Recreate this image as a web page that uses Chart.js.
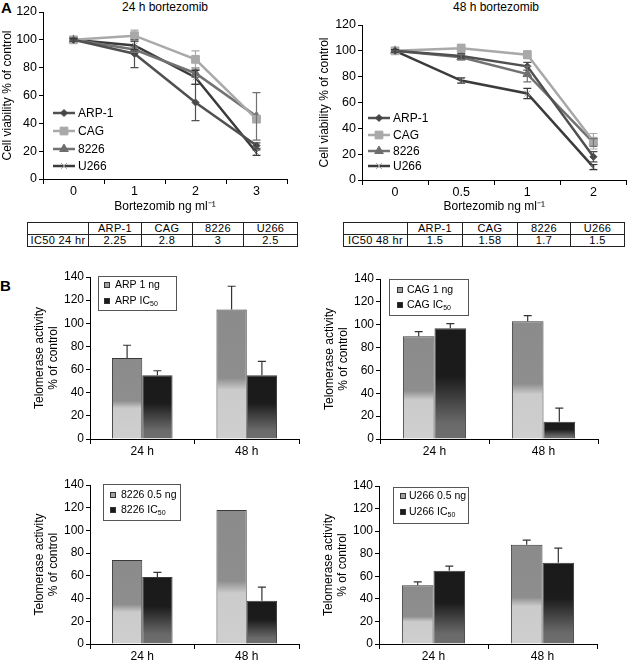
<!DOCTYPE html>
<html><head><meta charset="utf-8">
<script src="https://cdn.jsdelivr.net/npm/chart.js@4.4.0/dist/chart.umd.min.js"></script>
<style>
body{margin:0;background:#fff;font-family:"Liberation Sans",Arial,Helvetica,sans-serif;color:#000;}
#wrap{position:relative;width:633px;height:661px;overflow:hidden;background:#fff;}
canvas{position:absolute;}
.t{position:absolute;white-space:nowrap;font-size:12px;line-height:14px;}
.pl{position:absolute;font-weight:bold;font-size:15px;line-height:15px;}
table.ic{position:absolute;border-collapse:collapse;table-layout:fixed;border:1.5px solid #222;}
table.ic td{border:1px solid #222;height:11px;line-height:11px;padding:0;font-size:11px;letter-spacing:0.35px;text-align:center;overflow:hidden;white-space:nowrap;}
</style></head>
<body><div id="wrap">
<div class="pl" style="left:1px;top:0px;">A</div>
<div class="pl" style="left:0px;top:278px;">B</div>
<div class="t" style="left:165px;top:0px;transform:translateX(-50%);">24 h bortezomib</div>
<div class="t" style="left:496px;top:0px;transform:translateX(-50%);">48 h bortezomib</div>
<canvas id="a1" width="300" height="215" style="left:0px;top:0px;"></canvas>
<canvas id="a2" width="316" height="215" style="left:317px;top:0px;"></canvas>
<table class="ic" id="tab24" style="left:27px;top:222px;width:270px;"></table>
<table class="ic" id="tab48" style="left:343px;top:222px;width:281px;"></table>
<canvas id="b1" width="310" height="199" style="left:0px;top:262px;"></canvas>
<canvas id="b2" width="323" height="199" style="left:310px;top:262px;"></canvas>
<canvas id="b3" width="310" height="191" style="left:0px;top:470px;"></canvas>
<canvas id="b4" width="323" height="191" style="left:310px;top:470px;"></canvas>
</div>
<script>
// ---------- DATA ----------
const doses24 = ['0', '1', '2', '3'];
const doses48 = ['0', '0.5', '1', '2'];
const cellLines = ['ARP-1', 'CAG', '8226', 'U266'];

const arp24 = [100, 90, 55, 24];   const arp24Err = [1, 10, 13, 2];
const cag24 = [100, 103, 86, 43];  const cag24Err = [1, 4, 6, 2];
const r8226_24 = [100, 93, 76, 45]; const r8226_24Err = [1, 2, 3, 17];
const u266_24 = [100, 96, 73, 19]; const u266_24Err = [1, 3, 5, 2];

const arp48 = [100, 96, 88, 18];   const arp48Err = [1, 2, 3, 4];
const cag48 = [100, 102, 97, 30];  const cag48Err = [1, 3, 3, 6];
const r8226_48 = [100, 95, 82, 29]; const r8226_48Err = [1, 2, 6, 3];
const u266_48 = [100, 77, 67, 10]; const u266_48Err = [1, 2, 4, 2];

const ic50Header = ['ARP-1', 'CAG', '8226', 'U266'];
const ic50_24 = ['2.25', '2.8', '3', '2.5'];
const ic50_48 = ['1.5', '1.58', '1.7', '1.5'];

const timePoints = ['24 h', '48 h'];
const arpLabels = ['ARP 1 ng', 'ARP IC50'];
const arpLow = [70, 112];  const arpLowErr = [11, 20];
const arpIC = [55, 55];    const arpICErr = [4, 12];
const cagLabels = ['CAG 1 ng', 'CAG IC50'];
const cagLow = [90, 103];  const cagLowErr = [4, 5];
const cagIC = [97, 15];    const cagICErr = [4, 12];
const r8226Labels = ['8226 0.5 ng', '8226 IC50'];
const r8226Low = [74, 118]; const r8226LowErr = [0, 0];
const r8226IC = [59, 38];   const r8226ICErr = [4, 12];
const u266Labels = ['U266 0.5 ng', 'U266 IC50'];
const u266Low = [52, 88];  const u266LowErr = [3, 4];
const u266IC = [65, 72];   const u266ICErr = [4, 13];

// ---------- TABLES ----------
function buildTable(id, rowLabel, vals, widths) {
  const t = document.getElementById(id);
  let cg = '<colgroup>' + widths.map(w => '<col style="width:' + w + 'px">').join('') + '</colgroup>';
  let h = '<tr><td></td>' + ic50Header.map(c => '<td>' + c + '</td>').join('') + '</tr>';
  let r = '<tr><td>' + rowLabel + '</td>' + vals.map(v => '<td>' + v + '</td>').join('') + '</tr>';
  t.innerHTML = cg + h + r;
}
buildTable('tab24', 'IC50 24 hr', ic50_24, [61, 53, 51, 51, 54]);
buildTable('tab48', 'IC50 48 hr', ic50_48, [64, 55, 55, 53, 54]);

// ---------- CHART SETUP ----------
const FONT = '"Liberation Sans", Arial, Helvetica, sans-serif';
Chart.defaults.font.family = FONT;
Chart.defaults.color = '#000';
Chart.defaults.animation = false;
Chart.defaults.plugins.legend.display = false;
Chart.defaults.plugins.tooltip.enabled = false;

const errPlugin = {
  id: 'errbars',
  afterDatasetsDraw(chart, args, opts) {
    const ctx = chart.ctx, y = chart.scales.y;
    const cap = opts.cap || 4;
    chart.data.datasets.forEach((ds, i) => {
      if (!ds.errorBars) return;
      const meta = chart.getDatasetMeta(i);
      meta.data.forEach((el, j) => {
        const e = ds.errorBars[j];
        if (!e) return;
        const v = ds.data[j];
        const x = el.x;
        const yt = y.getPixelForValue(v + e);
        const yb = opts.upperOnly ? y.getPixelForValue(v) : y.getPixelForValue(v - e);
        ctx.save();
        ctx.strokeStyle = ds.errorColor || '#333';
        ctx.lineWidth = opts.width || 1.2;
        ctx.beginPath();
        ctx.moveTo(x, yt); ctx.lineTo(x, yb);
        ctx.moveTo(x - cap, yt); ctx.lineTo(x + cap, yt);
        if (!opts.upperOnly) { ctx.moveTo(x - cap, yb); ctx.lineTo(x + cap, yb); }
        ctx.stroke();
        ctx.restore();
      });
    });
  }
};

const lineLegendPlugin = {
  id: 'lineLegend',
  afterDraw(chart, args, o) {
    if (!o || o.x == null) return;
    const ctx = chart.ctx;
    chart.data.datasets.forEach((ds, i) => {
      const yy = o.rows[i];
      ctx.save();
      ctx.strokeStyle = ds.borderColor; ctx.lineWidth = ds.borderWidth;
      ctx.beginPath(); ctx.moveTo(o.x, yy); ctx.lineTo(o.x + o.len, yy); ctx.stroke();
      ctx.fillStyle = ds.pointBackgroundColor; ctx.strokeStyle = ds.pointBorderColor; ctx.lineWidth = ds.pointBorderWidth;
      Chart.helpers.drawPoint(ctx, {pointStyle: ds.pointStyle, radius: ds.pointRadius, rotation: 0, borderWidth: ds.pointBorderWidth}, o.x + o.len / 2, yy);
      ctx.fillStyle = '#000'; ctx.font = '12px ' + FONT; ctx.textBaseline = 'middle'; ctx.textAlign = 'left';
      ctx.fillText(ds.label, o.textX, yy + 0.5);
      ctx.restore();
    });
  }
};

const boxLegendPlugin = {
  id: 'boxLegend',
  afterDraw(chart, args, o) {
    if (!o || o.box == null) return;
    const ctx = chart.ctx;
    ctx.save();
    ctx.strokeStyle = '#555'; ctx.lineWidth = 1;
    ctx.strokeRect(o.box[0] + 0.5, o.box[1] + 0.5, o.box[2], o.box[3]);
    chart.data.datasets.forEach((ds, i) => {
      const yy = o.rows[i];
      ctx.fillStyle = ds.legendFill; ctx.strokeStyle = '#333'; ctx.lineWidth = 1;
      ctx.fillRect(o.mx - 3, yy - 3, 6, 6);
      ctx.strokeRect(o.mx - 3 + 0.5, yy - 3 + 0.5, 5, 5);
      ctx.fillStyle = '#000'; ctx.textBaseline = 'middle'; ctx.textAlign = 'left';
      let lab = ds.label, sub = '';
      if (/IC50$/.test(lab)) { sub = '50'; lab = lab.slice(0, -2); }
      ctx.font = '10.5px ' + FONT;
      ctx.fillText(lab, o.tx, yy);
      if (sub) {
        const w = ctx.measureText(lab).width;
        ctx.font = '7px ' + FONT;
        ctx.fillText(sub, o.tx + w, yy + 3.5);
      }
    });
    ctx.restore();
  }
};

Chart.register(errPlugin, lineLegendPlugin, boxLegendPlugin);

const lineStyles = [
  {color: '#505050', point: 'rectRot', r: 3.5, fill: '#454545', border: '#454545'},
  {color: '#a9a9a9', point: 'rect', r: 5.5, fill: '#a9a9a9', border: '#a9a9a9'},
  {color: '#727272', point: 'triangle', r: 5, fill: '#6e6e6e', border: '#6e6e6e'},
  {color: '#3b3b3b', point: 'crossRot', r: 4, fill: '#9a9a9a', border: '#9a9a9a'}
];

function lineDS(i, data, err) {
  const s = lineStyles[i];
  return {
    label: cellLines[i], data: data, errorBars: err, errorColor: s.color,
    borderColor: s.color, borderWidth: 2.5, tension: 0, fill: false,
    pointStyle: s.point, pointRadius: s.r, pointBackgroundColor: s.fill,
    pointBorderColor: s.border, pointBorderWidth: 1
  };
}

function axisCommon(tickSize, tickLen) {
  return {
    grid: {drawOnChartArea: false, tickLength: tickLen, color: '#000', lineWidth: 1},
    border: {display: true, color: '#000', width: 1}
  };
}

function makeLine(id, labels, sets, pad, yW, xH, legend) {
  new Chart(document.getElementById(id), {
    type: 'line',
    data: {labels: labels, datasets: sets},
    options: {
      responsive: false, animation: false,
      layout: {padding: pad},
      plugins: {errbars: {cap: 4, upperOnly: false, width: 1.2}, lineLegend: legend, boxLegend: {}},
      scales: {
        x: {
          type: 'category', offset: true,
          grid: {offset: true, drawOnChartArea: false, tickLength: 5, color: '#000', lineWidth: 1},
          border: {display: true, color: '#000', width: 1},
          ticks: {font: {size: 12.5}, padding: 0, color: '#000'},
          title: {display: true, text: 'Bortezomib ng ml\u207B\u00B9', font: {size: 12}, padding: {top: 0, bottom: 1}, color: '#000'},
          afterFit(s) { s.height = xH; }
        },
        y: {
          min: 0, max: 120,
          ticks: {stepSize: 20, font: {size: 12.5}, padding: 2, color: '#000'},
          grid: {drawOnChartArea: false, tickLength: 4, color: '#000', lineWidth: 1},
          border: {display: true, color: '#000', width: 1},
          title: {display: true, text: 'Cell viability % of control', font: {size: 12}, padding: 0, color: '#000'},
          afterFit(s) { s.width = yW; }
        }
      }
    }
  });
}

makeLine('a1', doses24, [
  lineDS(0, arp24, arp24Err), lineDS(1, cag24, cag24Err),
  lineDS(2, r8226_24, r8226_24Err), lineDS(3, u266_24, u266_24Err)
], {left: 0, top: 12, right: 13, bottom: 0}, 43, 36,
  {x: 53, len: 22, textX: 78, rows: [113, 131, 149, 166]});

makeLine('a2', doses48, [
  lineDS(0, arp48, arp48Err), lineDS(1, cag48, cag48Err),
  lineDS(2, r8226_48, r8226_48Err), lineDS(3, u266_48, u266_48Err)
], {left: 0, top: 25, right: 1, bottom: 0}, 45, 35,
  {x: 51, len: 22, textX: 76, rows: [118, 135, 151, 166]});

const lightStops = [[0, '#8b8b8b'], [0.53, '#8e8e8e'], [0.62, '#cbcbcb'], [1, '#cfcfcf']];
const darkStops = [[0, '#1a1a1a'], [0.44, '#1c1c1c'], [0.86, '#6a6a6a'], [1, '#6e6e6e']];

function barGrad(stops) {
  return function (c) {
    const chart = c.chart;
    const area = chart.chartArea;
    if (!area || c.type !== 'data' || !chart.scales.y) return stops[0][1];
    const v = c.raw;
    const yTop = chart.scales.y.getPixelForValue(v);
    const yBot = chart.scales.y.getPixelForValue(0);
    if (!isFinite(yTop) || !isFinite(yBot) || yBot - yTop < 1) return stops[0][1];
    const g = chart.ctx.createLinearGradient(0, yTop, 0, yBot);
    stops.forEach(s => g.addColorStop(s[0], s[1]));
    return g;
  };
}

function makeBar(id, names, low, lowErr, ic, icErr, pad, yW, xH, legend) {
  new Chart(document.getElementById(id), {
    type: 'bar',
    data: {
      labels: timePoints,
      datasets: [
        {label: names[0], data: low, errorBars: lowErr, errorColor: '#333', backgroundColor: barGrad(lightStops),
         borderColor: '#3a3a3a', borderWidth: 1, borderSkipped: 'bottom', legendFill: '#a2a2a2',
         categoryPercentage: 0.58, barPercentage: 1},
        {label: names[1], data: ic, errorBars: icErr, errorColor: '#333', backgroundColor: barGrad(darkStops),
         borderColor: '#3a3a3a', borderWidth: 1, borderSkipped: 'bottom', legendFill: '#1a1a1a',
         categoryPercentage: 0.58, barPercentage: 1}
      ]
    },
    options: {
      responsive: false, animation: false,
      layout: {padding: pad},
      plugins: {errbars: {cap: 4, upperOnly: true, width: 1.2}, boxLegend: legend, lineLegend: {}},
      scales: {
        x: {
          grid: {offset: true, drawOnChartArea: false, tickLength: 5, color: '#000', lineWidth: 1},
          border: {display: true, color: '#000', width: 1},
          ticks: {font: {size: 12}, padding: 0, color: '#000'},
          afterFit(s) { s.height = xH; }
        },
        y: {
          min: 0, max: 140,
          ticks: {stepSize: 20, font: {size: 12}, padding: 2, color: '#000'},
          grid: {drawOnChartArea: false, tickLength: 4, color: '#000', lineWidth: 1},
          border: {display: true, color: '#000', width: 1},
          title: {display: true, text: ['Telomerase activity', '% of control'], font: {size: 12, lineHeight: 1.15}, padding: 0, color: '#000'},
          afterFit(s) { s.width = yW; }
        }
      }
    }
  });
}

makeBar('b1', arpLabels, arpLow, arpLowErr, arpIC, arpICErr,
  {left: 33, top: 15, right: 11, bottom: 0}, 57, 22,
  {box: [98, 14, 78, 34], rows: [23, 39], mx: 107, tx: 115});
makeBar('b2', cagLabels, cagLow, cagLowErr, cagIC, cagICErr,
  {left: 13, top: 17, right: 35, bottom: 0}, 57, 22,
  {box: [79, 17, 79, 36], rows: [28, 43], mx: 90, tx: 97});
makeBar('b3', r8226Labels, r8226Low, r8226LowErr, r8226IC, r8226ICErr,
  {left: 33, top: 15, right: 11, bottom: 0}, 57, 17,
  {box: [103, 14, 77, 36], rows: [25, 40], mx: 113, tx: 121});
makeBar('b4', u266Labels, u266Low, u266LowErr, u266IC, u266ICErr,
  {left: 12, top: 16, right: 36, bottom: 0}, 57, 17,
  {box: [83, 17, 75, 36], rows: [26, 42], mx: 93, tx: 99});
</script>
</body></html>
